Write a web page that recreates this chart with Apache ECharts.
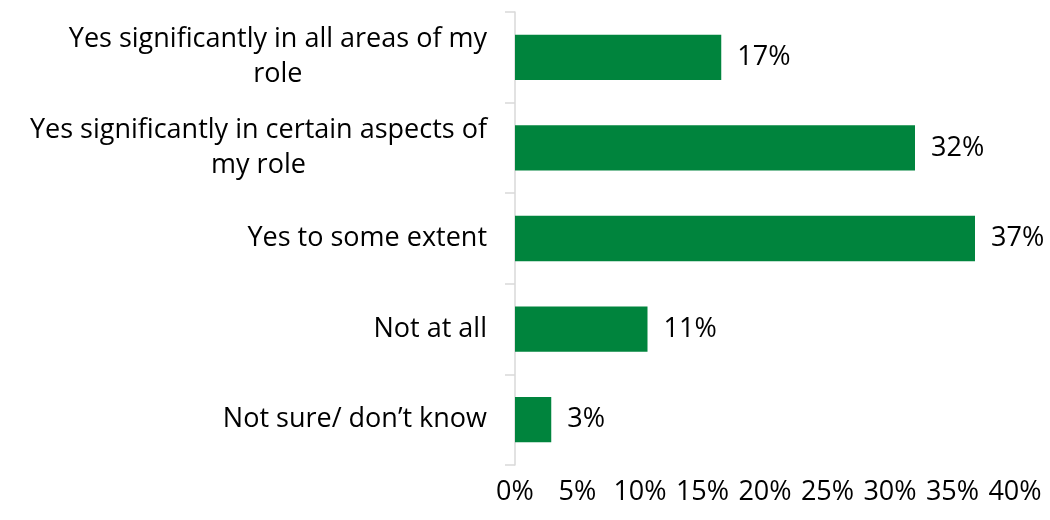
<!DOCTYPE html>
<html>
<head>
<meta charset="utf-8">
<script src="https://cdn.jsdelivr.net/npm/echarts@6/dist/echarts.min.js"></script>
<style>
html,body{margin:0;padding:0;background:#fff;}
#chart{width:1050px;height:520px;}
</style>
</head>
<body>
<div id="chart"></div>
<script>
const categories = [
  "Yes significantly in all areas of my role",
  "Yes significantly in certain aspects of my role",
  "Yes to some extent",
  "Not at all",
  "Not sure/ don\u2019t know"
];
const values = [16.5, 32.0, 36.8, 10.6, 2.9];
const xTicks = [0, 5, 10, 15, 20, 25, 30, 35, 40];

const FONT = 'Open Sans';
const FS = 27;
const WRAP_W = 468;

const measureCtx = document.createElement('canvas').getContext('2d');
measureCtx.font = FS + 'px "' + FONT + '"';
function wrapText(text) {
  const words = text.split(' ');
  const lines = [];
  let cur = '';
  words.forEach(w => {
    const test = cur ? cur + ' ' + w : w;
    if (cur && measureCtx.measureText(test).width > WRAP_W) {
      lines.push(cur);
      cur = w;
    } else {
      cur = test;
    }
  });
  if (cur) lines.push(cur);
  return lines.map(l => '{c|' + l + '}').join('\n');
}

const chart = echarts.init(document.getElementById('chart'), null, {renderer: 'canvas'});
chart.setOption({
  animation: false,
  backgroundColor: '#ffffff',
  grid: {left: 515, right: 35, top: 12, bottom: 55, containLabel: false},
  xAxis: {
    type: 'value',
    min: xTicks[0],
    max: xTicks[xTicks.length - 1],
    interval: 5,
    axisLine: {show: false},
    axisTick: {show: false},
    splitLine: {show: false},
    axisLabel: {
      formatter: v => v + '%',
      fontFamily: FONT, fontSize: FS, color: '#000', margin: 14
    }
  },
  yAxis: {
    type: 'category',
    data: categories,
    inverse: true,
    axisLine: {show: true, lineStyle: {color: '#d9d9d9', width: 1.5}},
    axisTick: {show: true, length: 10, lineStyle: {color: '#d9d9d9', width: 1.5}},
    axisLabel: {
      fontFamily: FONT, fontSize: FS, color: '#000', margin: 28,
      align: 'right', lineHeight: 35,
      formatter: v => wrapText(v),
      rich: {
        c: {fontFamily: FONT, fontSize: FS, color: '#000', align: 'center', lineHeight: 35}
      }
    }
  },
  series: [{
    type: 'bar',
    data: values,
    barWidth: '50%',
    itemStyle: {color: '#00843d'},
    label: {
      show: true, position: 'right', distance: 16,
      formatter: p => Math.round(p.value) + '%',
      fontFamily: FONT, fontSize: FS, color: '#000'
    }
  }]
});
</script>
</body>
</html>
